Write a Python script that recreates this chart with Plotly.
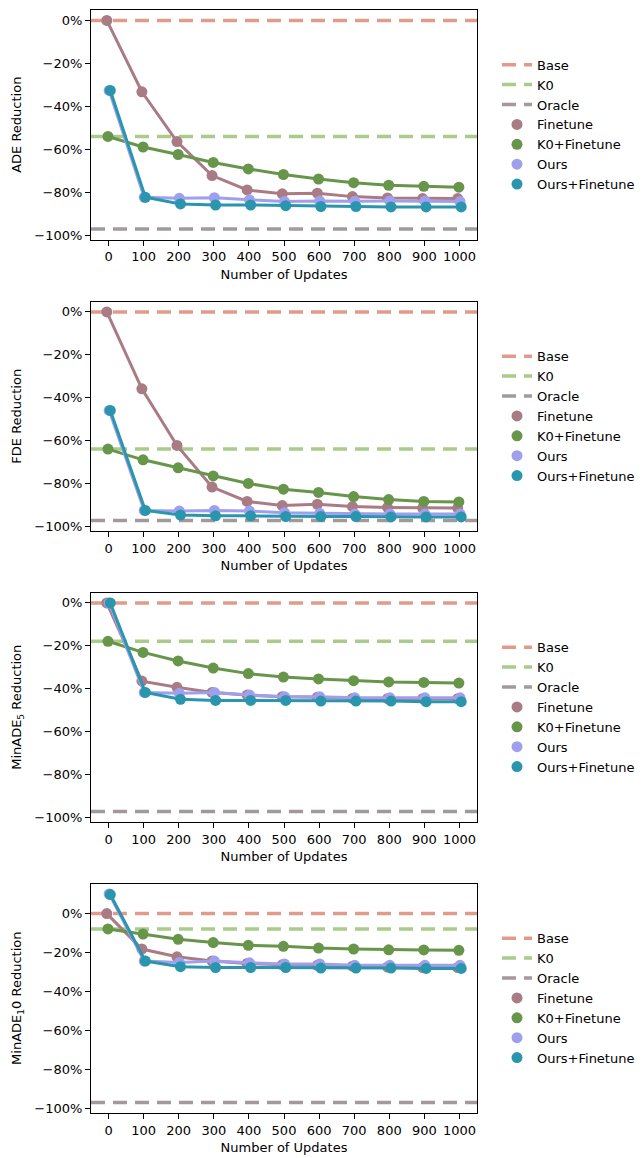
import plotly.graph_objects as go

# ---------------- data ----------------
updates = [0, 100, 200, 300, 400, 500, 600, 700, 800, 900, 1000]
x_tick_labels = [str(u) for u in updates]
y_tick_vals = [0, -20, -40, -60, -80, -100]
y_tick_labels = ["0%", "\u221220%", "\u221240%", "\u221260%", "\u221280%", "\u2212100%"]

panel_titles = ["ADE Reduction", "FDE Reduction",
                "MinADE<sub>5</sub> Reduction", "MinADE<sub>1</sub>0 Reduction"]

base_ref = [0.0, 0.0, 0.0, 0.0]
k0_ref = [-54.0, -63.9, -17.9, -7.9]
oracle_ref = [-97.1, -97.2, -97.4, -97.1]

ade_finetune = [0, -33.2, -56.4, -72.2, -78.9, -80.7, -80.4, -82.0, -82.6, -82.9, -82.9]
ade_k0_finetune = [-54.0, -58.9, -62.4, -66.1, -69.1, -71.7, -73.8, -75.5, -76.7, -77.2, -77.6]
ade_ours = [-32.6, -82.3, -82.8, -82.5, -83.5, -84.3, -84.0, -84.2, -84.0, -84.0, -84.3]
ade_ours_finetune = [-32.6, -82.3, -85.4, -85.9, -85.9, -86.2, -86.6, -86.6, -86.8, -86.8, -86.8]

fde_finetune = [0, -35.8, -62.2, -81.6, -88.3, -90.2, -89.6, -90.7, -91.1, -91.4, -91.4]
fde_k0_finetune = [-63.9, -68.9, -72.6, -76.4, -79.9, -82.6, -84.1, -86.0, -87.4, -88.3, -88.5]
fde_ours = [-45.9, -92.5, -92.8, -92.5, -92.8, -93.5, -93.8, -94.1, -94.1, -94.1, -94.1]
fde_ours_finetune = [-45.9, -92.5, -94.6, -95.0, -95.0, -95.3, -95.3, -95.3, -95.5, -95.5, -95.5]

minade5_finetune = [0, -36.5, -39.4, -41.8, -43.0, -43.8, -44.0, -44.6, -44.7, -44.7, -44.7]
minade5_k0_finetune = [-17.9, -23.1, -27.1, -30.4, -33.0, -34.6, -35.5, -36.3, -36.9, -37.1, -37.4]
minade5_ours = [0, -41.8, -42.2, -41.8, -43.0, -43.8, -43.8, -44.3, -44.3, -44.3, -44.3]
minade5_ours_finetune = [0, -41.8, -45.0, -45.5, -45.5, -45.5, -45.8, -45.8, -45.8, -46.1, -46.1]

minade10_finetune = [0, -18.2, -22.2, -24.4, -25.6, -26.3, -26.6, -27.0, -27.5, -27.7, -27.7]
minade10_k0_finetune = [-7.9, -10.5, -13.2, -14.9, -16.3, -16.8, -17.7, -18.2, -18.6, -18.7, -18.9]
minade10_ours = [10.1, -24.4, -25.1, -24.4, -25.3, -25.9, -25.9, -26.6, -26.6, -26.6, -26.6]
minade10_ours_finetune = [9.8, -24.4, -27.3, -27.7, -27.7, -27.7, -28.0, -28.0, -28.0, -28.2, -28.2]

series_names = ["Finetune", "K0+Finetune", "Ours", "Ours+Finetune"]
panels = [
    [ade_finetune, ade_k0_finetune, ade_ours, ade_ours_finetune],
    [fde_finetune, fde_k0_finetune, fde_ours, fde_ours_finetune],
    [minade5_finetune, minade5_k0_finetune, minade5_ours, minade5_ours_finetune],
    [minade10_finetune, minade10_k0_finetune, minade10_ours, minade10_ours_finetune],
]

# ---------------- style ----------------
ref_names = ["Base", "K0", "Oracle"]
ref_colors = ["rgba(216,130,110,0.8)", "rgba(140,186,100,0.75)", "rgba(140,128,130,0.8)"]
series_colors = ["#A97C85", "#67954A", "#A09FEE", "#2A96AE"]
dodge = [-0.05, -1 / 60, 1 / 60, 0.05]
FONT = "DejaVu Sans"

W, H = 643, 1158
L, R, T, B = 91, 166, 10, 45
plot_h = H - T - B
panel_tops = [10, 301.5, 592.5, 883.5]
panel_h = 229.5

fig = go.Figure()
n = len(updates)
idx = list(range(n))

for p in range(4):
    ax = "" if p == 0 else str(p + 1)
    xref, yref = "x" + ax, "y" + ax
    leg = "legend" + ax
    refs = [base_ref[p], k0_ref[p], oracle_ref[p]]
    for name, val, col in zip(ref_names, refs, ref_colors):
        fig.add_trace(go.Scatter(
            x=[-0.5, n - 0.5], y=[val, val], mode="lines", name=name,
            line=dict(color=col, width=3.5, dash="14px,8px"),
            xaxis=xref, yaxis=yref, legend=leg, hoverinfo="skip"))
    for s, (name, vals) in enumerate(zip(series_names, panels[p])):
        fig.add_trace(go.Scatter(
            x=[i + dodge[s] for i in idx], y=vals, mode="lines+markers",
            line=dict(color=series_colors[s], width=3),
            marker=dict(color=series_colors[s], size=11),
            xaxis=xref, yaxis=yref, showlegend=False, name=name))
    for s, name in enumerate(series_names):
        fig.add_trace(go.Scatter(
            x=[None], y=[None], mode="markers", name=name,
            marker=dict(color=series_colors[s], size=11),
            xaxis=xref, yaxis=yref, legend=leg))

    allv = refs + [v for sv in panels[p] for v in sv]
    lo, hi = min(allv), max(allv)
    pad = 0.05 * (hi - lo)
    top = panel_tops[p]
    d1 = 1 - (top - T) / plot_h
    d0 = 1 - (top + panel_h - T) / plot_h
    axis_common = dict(showline=True, linecolor="black", linewidth=1, mirror=True,
                       ticks="outside", ticklen=5, tickwidth=1, tickcolor="black",
                       showgrid=False, zeroline=False, automargin=False,
                       tickfont=dict(family=FONT, size=13, color="black"))
    fig.layout["xaxis" + ax] = dict(
        axis_common, domain=[0, 1], range=[-0.5, n - 0.5], anchor=yref,
        tickvals=idx, ticktext=x_tick_labels,
        title=dict(text="Number of Updates", font=dict(family=FONT, size=13, color="black"),
                   standoff=6))
    fig.layout["yaxis" + ax] = dict(
        axis_common, domain=[d0, d1], range=[lo - pad, hi + pad], anchor=xref,
        tickvals=y_tick_vals, ticktext=y_tick_labels,
        title=dict(text=panel_titles[p], font=dict(family=FONT, size=13, color="black"),
                   standoff=9))
    fig.layout[leg] = dict(
        xref="container", yref="container",
        x=497 / W, xanchor="left",
        y=1 - (top + panel_h / 2) / H, yanchor="middle",
        font=dict(family=FONT, size=13, color="black"),
        bgcolor="rgba(0,0,0,0)", borderwidth=0, tracegroupgap=0)

fig.update_layout(
    width=W, height=H, margin=dict(l=L, r=R, t=T, b=B, autoexpand=False),
    plot_bgcolor="white", paper_bgcolor="white",
    font=dict(family=FONT, size=13, color="black"),
    showlegend=True,
)

fig.write_html("out.html", config={"displayModeBar": False},
               post_script="document.body.style.margin='0';document.body.style.overflow='hidden';")
